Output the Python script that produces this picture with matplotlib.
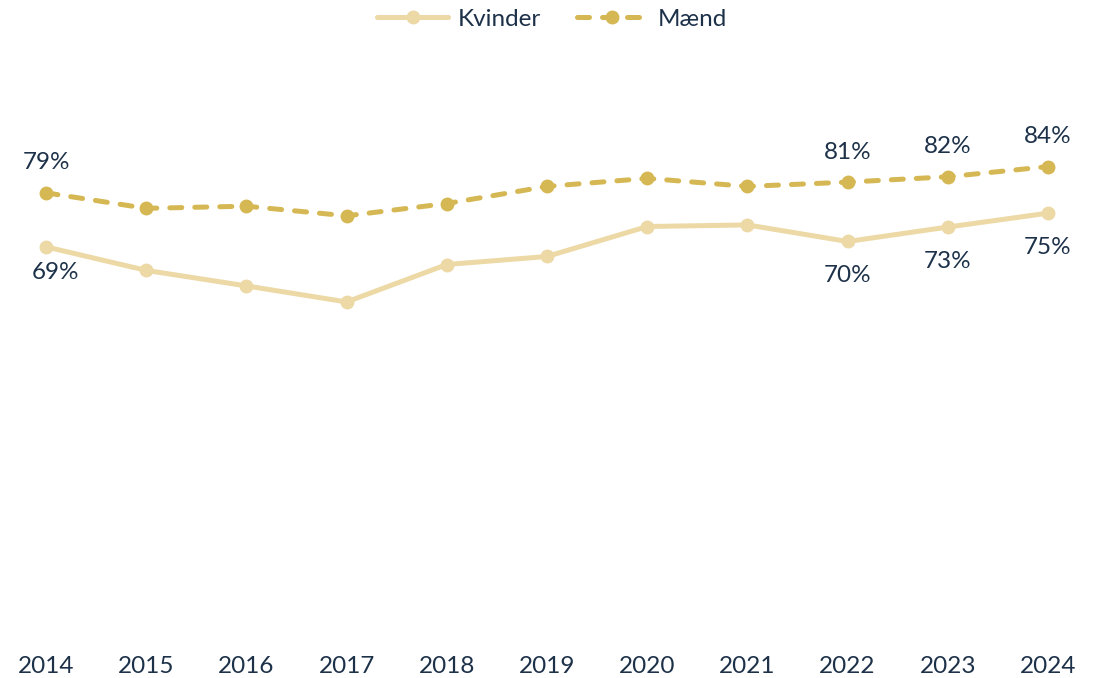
import matplotlib.pyplot as plt

years = [2014, 2015, 2016, 2017, 2018, 2019, 2020, 2021, 2022, 2023, 2024]
kvinder = [69.0, 64.6, 61.7, 58.7, 65.7, 67.2, 72.8, 73.1, 70.0, 72.7, 75.3]
maend = [79.1, 76.2, 76.6, 74.8, 77.1, 80.3, 81.8, 80.3, 81.1, 82.1, 84.0]

# which points get a value label
labelled_k = [2014, 2022, 2023, 2024]
labelled_m = [2014, 2022, 2023, 2024]

col_k = '#edd9a6'
col_m = '#d5b853'
txt = '#1d3149'

plt.rcParams['font.family'] = ['Lato', 'DejaVu Sans']

fig = plt.figure(figsize=(11.04, 6.78), dpi=100)
ax = fig.add_axes([0, 62 / 678, 1, 535 / 678])

ax.plot(years, kvinder, color=col_k, lw=3.6, marker='o', ms=9,
        solid_capstyle='round', label='Kvinder')
ax.plot(years, maend, color=col_m, lw=3.6, marker='o', ms=9,
        linestyle=(0, (2.4, 2.6)), dash_capstyle='round', label='Mænd')

for y, v in zip(years, maend):
    if y in labelled_m:
        ax.annotate(f'{round(v)}%', (y, v), xytext=(0, 30),
                    textcoords='offset pixels', ha='center', va='center',
                    fontsize=17.5, color=txt)
for y, v in zip(years, kvinder):
    if y in labelled_k:
        dx, dy = (9, -26) if y == 2014 else (0, -34)
        ax.annotate(f'{round(v)}%', (y, v), xytext=(dx, dy),
                    textcoords='offset pixels', ha='center', va='center',
                    fontsize=17.5, color=txt)

ax.set_xlim(2014 - 46 / 100.2, 2014 + 1058 / 100.2)
ax.set_ylim(0, 100)
ax.set_xticks(years)
ax.set_xticklabels([str(y) for y in years], fontsize=17.5, color=txt)
ax.tick_params(axis='x', length=0, pad=29)
ax.set_yticks([])
for s in ax.spines.values():
    s.set_visible(False)

leg = fig.legend(loc='center', bbox_to_anchor=(0.5, 1 - 19 / 678), ncol=2,
                 frameon=False, fontsize=17.5, handlelength=2.9,
                 columnspacing=1.5, handletextpad=0.4)
for t in leg.get_texts():
    t.set_color(txt)

fig.savefig('out.png', dpi=100)
